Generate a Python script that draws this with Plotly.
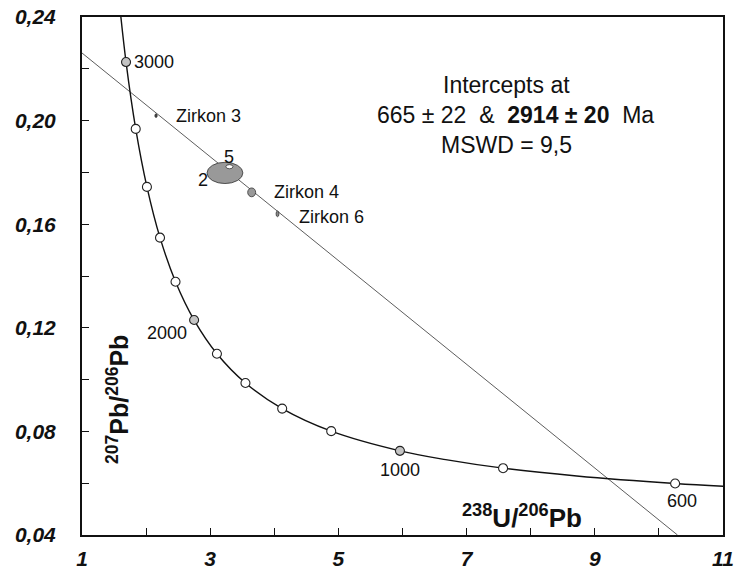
import plotly.graph_objects as go

# Tera-Wasserburg concordia: ages (Ma) with 238U/206Pb and 207Pb/206Pb
conc_age = [3150, 3000, 2800, 2600, 2400, 2200, 2000, 1800, 1600, 1400,
            1200, 1000, 900, 800, 700, 600, 550]
conc_x = [1.587, 1.687, 1.838, 2.013, 2.217, 2.459, 2.749, 3.105, 3.550,
          4.123, 4.888, 5.960, 6.674, 7.569, 8.718, 10.253, 11.23]
conc_y = [0.2446, 0.2226, 0.1968, 0.1744, 0.1548, 0.1378, 0.1230, 0.1100,
          0.0987, 0.0888, 0.0801, 0.0725, 0.0691, 0.0658, 0.0628, 0.0599,
          0.0585]
tick_ages = [3000, 2800, 2600, 2400, 2200, 2000, 1800, 1600, 1400, 1200,
             1000, 800, 600]
labelled_ages = [3000, 2000, 1000, 600]
grey_ages = [3000, 2000, 1000]

# Discordia through the intercepts 665 Ma and 2914 Ma
disc_x = [1.0, 10.29]
disc_y = [0.2261, 0.04]

# Zircon analyses: centre and half-axes of the error ellipses
spot_name = ["Zirkon 3", "2", "5", "Zirkon 4", "Zirkon 6"]
spot_x = [2.155, 3.23, 3.30, 3.647, 4.05]
spot_y = [0.2019, 0.1798, 0.1822, 0.1723, 0.1640]
spot_dx = [0.018, 0.28, 0.055, 0.062, 0.022]
spot_dy = [0.0007, 0.0041, 0.0008, 0.0017, 0.0011]
spot_fill = ["#444444", "#999999", "#ffffff", "#999999", "#888888"]

# label anchor for each analysis (x, y, anchor)
spot_lab = [(2.43, 0.2019, "left"), (2.99, 0.1771, "right"),
            (3.29, 0.1860, "center"), (3.97, 0.1724, "left"),
            (4.36, 0.1628, "left")]

FONT = "Liberation Sans, Arial, sans-serif"

fig = go.Figure()

fig.add_trace(go.Scatter(
    x=disc_x, y=disc_y, mode="lines",
    line=dict(color="#333333", width=0.8), hoverinfo="skip"))

fig.add_trace(go.Scatter(
    x=conc_x, y=conc_y, mode="lines", line_shape="spline",
    line=dict(color="#111111", width=1.4), hoverinfo="skip"))

mx, my, mc = [], [], []
for a, x, y in zip(conc_age, conc_x, conc_y):
    if a in tick_ages:
        mx.append(x)
        my.append(y)
        mc.append("#c4c4c4" if a in grey_ages else "#ffffff")
fig.add_trace(go.Scatter(
    x=mx, y=my, mode="markers",
    marker=dict(size=9, color=mc, line=dict(color="#222222", width=1.1))))

for cx, cy, dx, dy, fc in zip(spot_x, spot_y, spot_dx, spot_dy, spot_fill):
    fig.add_shape(type="circle", xref="x", yref="y",
                  x0=cx - dx, x1=cx + dx, y0=cy - dy, y1=cy + dy,
                  fillcolor=fc, line=dict(color="#333333", width=0.8))

for name, (lx, ly, anc) in zip(spot_name, spot_lab):
    fig.add_annotation(x=lx, y=ly, text=name, showarrow=False,
                       xanchor=anc, yanchor="middle",
                       font=dict(family=FONT, size=18, color="#111111"))

# age labels beside the concordia markers
age_lab = {3000: (0.09, 0.0, "left"), 2000: (-0.08, -0.0050, "right"),
           1000: (0.0, -0.0075, "center"), 600: (0.11, -0.0068, "center")}
for a, x, y in zip(conc_age, conc_x, conc_y):
    if a in labelled_ages:
        ox, oy, anc = age_lab[a]
        fig.add_annotation(x=x + ox, y=y + oy, text=str(a), showarrow=False,
                           xanchor=anc, yanchor="middle",
                           font=dict(family=FONT, size=18, color="#111111"))

info = [("Intercepts at", 7.63, 0.2138),
        ("665 ± 22  &  <b>2914 ± 20</b>  Ma", 7.77, 0.2022),
        ("MSWD = 9,5", 7.63, 0.1906)]
for t, x, y in info:
    fig.add_annotation(x=x, y=y, text=t, showarrow=False,
                       xanchor="center", yanchor="middle",
                       font=dict(family=FONT, size=23, color="#111111"))

fig.add_annotation(x=7.86, y=0.0472, text="<sup>238</sup>U/<sup>206</sup>Pb",
                   showarrow=False, xanchor="center", yanchor="middle",
                   font=dict(family=FONT, size=26, color="#111111", weight="bold"))
fig.add_annotation(x=1.56, y=0.0925, text="<sup>207</sup>Pb/<sup>206</sup>Pb",
                   showarrow=False, textangle=-90, xanchor="center",
                   yanchor="middle",
                   font=dict(family=FONT, size=25, color="#111111", weight="bold"))

tickfont = dict(family=FONT, size=21, color="#111111", weight="bold",
                style="italic")
axis_common = dict(showgrid=False, zeroline=False, showline=True,
                   linecolor="#111111", linewidth=2, mirror=True,
                   ticks="inside", ticklen=7, tickwidth=1, tickcolor="#111111",
                   tickfont=tickfont, automargin=False)

fig.update_xaxes(range=[1, 11], tick0=1, dtick=2,
                 minor=dict(ticks="inside", dtick=1, ticklen=7,
                            tickcolor="#111111"),
                 ticklabelstandoff=4, **axis_common)
fig.update_yaxes(range=[0.04, 0.24], tick0=0.04, dtick=0.04,
                 tickformat=".2f",
                 minor=dict(ticks="inside", dtick=0.02, ticklen=7,
                            tickcolor="#111111"),
                 ticklabelstandoff=20, **axis_common)

fig.update_layout(
    width=735, height=582, showlegend=False, separators=",.",
    margin=dict(l=82, r=12, t=17, b=47),
    paper_bgcolor="white", plot_bgcolor="white")

fig.write_html("out.html")
